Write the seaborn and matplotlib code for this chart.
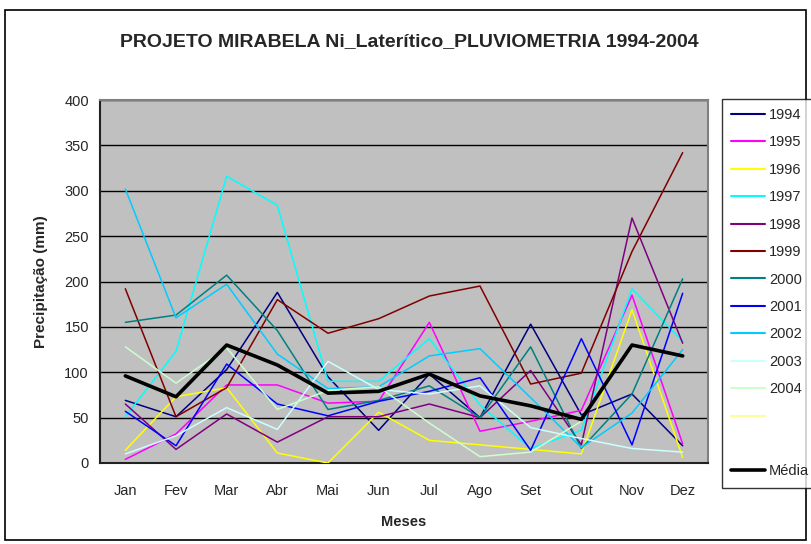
import matplotlib
matplotlib.use("Agg")
import matplotlib.pyplot as plt
from matplotlib.lines import Line2D
from matplotlib.patches import Rectangle
import seaborn as sns
import numpy as np
import pandas as pd

months = ["Jan", "Fev", "Mar", "Abr", "Mai", "Jun", "Jul", "Ago", "Set", "Out", "Nov", "Dez"]
years = ["1994", "1995", "1996", "1997", "1998", "1999", "2000", "2001", "2002", "2003", "2004"]

v1994 = [69, 51, 103, 188, 95, 36, 98, 50, 153, 53, 76, 19]
v1995 = [4, 32, 86, 86, 66, 68, 155, 35, 46, 58, 185, 21]
v1996 = [14, 73, 83, 11, 0, 56, 25, 20, 15, 10, 169, 6]
v1997 = [51, 123, 316, 284, 90, 90, 137, 64, 16, 36, 192, 134]
v1998 = [65, 15, 54, 23, 51, 51, 65, 50, 102, 20, 270, 132]
v1999 = [192, 51, 83, 180, 143, 159, 184, 195, 87, 99, 233, 342]
v2000 = [155, 163, 207, 146, 59, 69, 85, 50, 128, 16, 76, 203]
v2001 = [57, 19, 109, 65, 52, 68, 79, 94, 14, 137, 20, 187]
v2002 = [302, 160, 197, 120, 82, 84, 118, 126, 72, 17, 55, 125]
v2003 = [10, 30, 61, 37, 112, 81, 76, 85, 39, 27, 16, 12]
v2004 = [128, 88, 127, 59, 80, 84, 44, 7, 12, 46, None, None]
media = [96, 73, 130, 108, 77, 79, 98, 74, 63, 48, 130, 118]

series = [v1994, v1995, v1996, v1997, v1998, v1999, v2000, v2001, v2002, v2003, v2004]
colors = ["#000080", "#FF00FF", "#FFFF00", "#00FFFF", "#800080", "#800000",
          "#008080", "#0000FF", "#00CCFF", "#CCFFFF", "#CCFFCC"]

rows = []
for y, vals in zip(years, series):
    for i, v in enumerate(vals):
        rows.append({"Ano": y, "m": i, "Mes": months[i], "valor": np.nan if v is None else v})
df = pd.DataFrame(rows)
dfm = pd.DataFrame({"m": np.arange(12), "valor": media})

sns.set_style("white")
plt.rcParams["font.family"] = ["Liberation Sans", "DejaVu Sans"]

fig = plt.figure(figsize=(8.11, 5.44), dpi=100)
ax = fig.add_axes([100/811, 1-463/544, 608/811, 363/544])
ax.set_facecolor("#C0C0C0")

palette = dict(zip(years, colors))
for y in years:
    sns.lineplot(data=df[df["Ano"] == y], x="m", y="valor", color=palette[y],
                 lw=1.1, ax=ax, legend=False, zorder=3)
sns.lineplot(data=dfm, x="m", y="valor", color="black", lw=2.6, ax=ax,
             legend=False, zorder=4)

ax.set_xlim(-0.5, 11.5)
ax.set_ylim(0, 400)
ax.set_yticks(np.arange(0, 401, 50))
ax.yaxis.grid(True, color="black", lw=1.0)
ax.set_axisbelow(True)
ax.set_xticks(np.arange(12))
ax.set_xticklabels(months, fontsize=10.5)
ax.set_xticks(np.arange(-0.5, 12, 1), minor=True)
ax.tick_params(axis="x", which="major", length=0, pad=15)
ax.tick_params(axis="x", which="minor", length=6, width=1.2, color="black", direction="out")
ax.tick_params(axis="y", length=5, width=1.2, color="black", direction="out", labelsize=10.5, pad=3)
for s in ["left", "bottom"]:
    ax.spines[s].set_color("#222222")
    ax.spines[s].set_linewidth(1.5)
for s in ["top", "right"]:
    ax.spines[s].set_color("#808080")
    ax.spines[s].set_linewidth(1.5)

ax.set_xlabel("Meses", fontsize=10.5, fontweight="bold", labelpad=12)
ax.set_ylabel("Precipitação (mm)", fontsize=11, fontweight="bold", labelpad=12)

fig.text(0.5 * (5 + 806) / 811 + 0.005, 1 - 42/544, "PROJETO MIRABELA Ni_Laterítico_PLUVIOMETRIA 1994-2004",
         ha="center", va="center", fontsize=14, fontweight="bold")

handles = [Line2D([], [], color=c, lw=1.5) for c in colors]
labels = list(years)
handles.append(Line2D([], [], color="#FFFF99", lw=1.5)); labels.append(" ")
handles.append(Line2D([], [], color="none", lw=1.5)); labels.append(" ")
handles.append(Line2D([], [], color="black", lw=2.6)); labels.append("Média")
leg = fig.legend(handles, labels, loc="upper left", bbox_to_anchor=(722/811, 1-99/544),
                 fontsize=10.5, frameon=True, fancybox=False, edgecolor="black",
                 handlelength=2.3, handletextpad=0.3, labelspacing=0.92,
                 borderpad=0.62, borderaxespad=0)
leg.get_frame().set_linewidth(1.0)

fig.patches.append(Rectangle((5/811, 4/544), 801/811, 530/544, transform=fig.transFigure,
                             fill=False, edgecolor="black", lw=1.2))

fig.savefig("out.png", dpi=100)
